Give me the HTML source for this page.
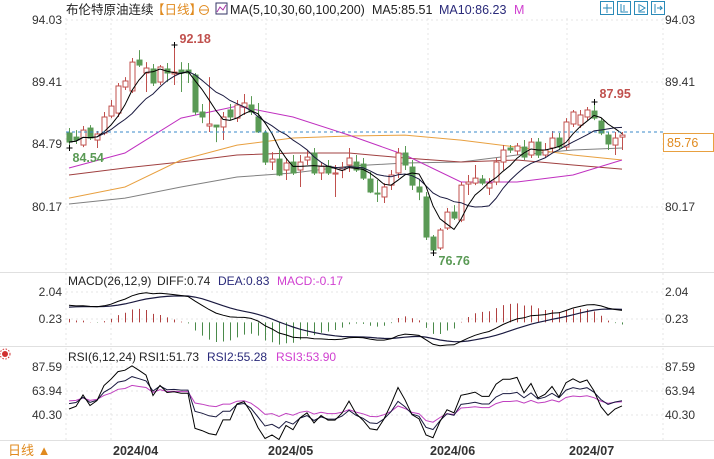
<!DOCTYPE html>
<html><head><meta charset="utf-8">
<style>
body{margin:0;background:#fff;}
svg{display:block;font-family:"Liberation Sans","Noto Sans CJK SC",sans-serif;}
</style></head>
<body>
<svg id="chart" width="714" height="459" viewBox="0 0 714 459" xmlns="http://www.w3.org/2000/svg">
<rect x="0" y="0" width="714" height="459" fill="#fff"/>
<g id="grid" stroke="#e4e4e4" stroke-width="1" stroke-dasharray="2,3">
  <line x1="66" y1="20" x2="663" y2="20"/><line x1="66" y1="82" x2="663" y2="82"/>
  <line x1="66" y1="207" x2="663" y2="207"/>
  <line x1="66" y1="292" x2="663" y2="292"/><line x1="66" y1="319" x2="663" y2="319"/>
  <line x1="66" y1="367" x2="663" y2="367"/><line x1="66" y1="391" x2="663" y2="391"/><line x1="66" y1="415" x2="663" y2="415"/>
  <line x1="111" y1="18" x2="111" y2="440"/><line x1="266" y1="18" x2="266" y2="440"/>
  <line x1="428" y1="18" x2="428" y2="440"/><line x1="567" y1="18" x2="567" y2="440"/>
  <line x1="66" y1="18" x2="66" y2="440"/><line x1="663" y1="18" x2="663" y2="440"/>
</g>
<g stroke="#e0e0e0">
  <line x1="0" y1="272.5" x2="714" y2="272.5"/><line x1="0" y1="346.5" x2="714" y2="346.5"/>
  <line x1="0" y1="440.5" x2="714" y2="440.5"/>
</g>
<g font-size="12.5">
  <text x="66" y="14" fill="#222">布伦特原油连续</text>
  <text x="152" y="14" fill="#e08a1e">【日线】</text>
  <circle cx="204" cy="10" r="4.5" fill="none" stroke="#e08a1e"/>
  <line x1="200" y1="10" x2="208" y2="10" stroke="#e08a1e"/>
  <rect x="216" y="3" width="11" height="11" fill="none" stroke="#336"/>
  <polyline points="217,12 220,7 223,10 226,5" fill="none" stroke="#a3a" />
  <text x="230" y="14" fill="#222">MA(5,10,30,60,100,200)</text>
  <text x="372" y="14" fill="#222">MA5:85.51</text>
  <text x="439" y="14" fill="#2a2a7a">MA10:86.23</text>
  <text x="514" y="14" fill="#d040d0">M</text>
</g>
<g fill="#fff" stroke="#2a8ab8">
  <rect x="600.5" y="1.5" width="13" height="13"/>
  <rect x="617.5" y="1.5" width="13" height="13"/>
  <rect x="634.5" y="1.5" width="13" height="13"/>
  <rect x="651.5" y="1.5" width="13" height="13"/>
  <path d="M607 4v9M603 8h9M621 4v8h7M624 5v6M639 4v8h6M640 5l5 3-5 3M655 4v9M657 8h5l-2-2M660 10l2-2" fill="none"/>
</g>
<g font-size="12" fill="#333">
  <text x="62" y="24" text-anchor="end">94.03</text><text x="62" y="86" text-anchor="end">89.41</text>
  <text x="62" y="148" text-anchor="end">84.79</text><text x="62" y="211" text-anchor="end">80.17</text>
  <text x="665" y="24">94.03</text><text x="665" y="86">89.41</text><text x="665" y="211">80.17</text>
</g>
<g font-size="12" fill="#333">
  <text x="62" y="296" text-anchor="end">2.04</text><text x="62" y="323" text-anchor="end">0.23</text>
  <text x="665" y="296">2.04</text><text x="665" y="323">0.23</text>
</g>
<g font-size="12" fill="#333">
  <text x="62" y="371" text-anchor="end">87.59</text><text x="62" y="395" text-anchor="end">63.94</text><text x="62" y="419" text-anchor="end">40.30</text>
  <text x="665" y="371">87.59</text><text x="665" y="395">63.94</text><text x="665" y="419">40.30</text>
</g>
<g font-size="12.5" font-weight="bold" fill="#333">
  <text x="113" y="455">2024/04</text><text x="268" y="455">2024/05</text>
  <text x="430" y="455">2024/06</text><text x="569" y="455">2024/07</text>
</g>
<text x="8" y="455" font-size="13" fill="#e08a1e">日线 ▲</text>
<g>
  <circle cx="5" cy="354" r="3" fill="#d03030"/><circle cx="5" cy="354" r="5" fill="none" stroke="#d03030" stroke-dasharray="1.5,1.5"/>
</g>
<g font-size="12">
  <text x="68" y="285" fill="#222">MACD(26,12,9)</text><text x="157" y="285" fill="#222">DIFF:0.74</text>
  <text x="218" y="285" fill="#2a2a7a">DEA:0.83</text><text x="277" y="285" fill="#d040d0">MACD:-0.17</text>
</g>
<g font-size="12">
  <text x="68" y="361" fill="#222">RSI(6,12,24)</text><text x="139" y="361" fill="#222">RSI1:51.73</text>
  <text x="207" y="361" fill="#2a2a7a">RSI2:55.28</text><text x="276" y="361" fill="#d040d0">RSI3:53.90</text>
</g>
<g id="main"></g>
<g id="macd"></g>
<g id="rsi"></g>
<line x1="66" y1="132" x2="663" y2="132" stroke="#3a8ac8" stroke-dasharray="3,3"/>
<g>
  <rect x="663.5" y="133.5" width="50" height="18" fill="#fff" stroke="#e8a040"/>
  <text x="667" y="147" font-size="12.5" fill="#e08a1e">85.76</text>
</g>
</svg>
<script>
const opens  = [85.65,85.35,84.76,86.02,85.13,85.65,86.91,87.13,89.06,88.77,91.06,90.10,90.40,89.43,90.40,90.03,90.32,90.32,89.95,87.21,86.17,86.24,86.10,87.36,86.76,87.58,87.73,86.84,85.65,83.50,83.72,82.91,83.50,82.91,83.65,84.17,82.69,83.20,82.61,82.91,83.28,83.50,83.35,82.24,81.20,80.91,81.79,82.69,84.17,83.13,81.65,80.91,77.94,77.13,78.61,79.79,79.20,81.87,81.94,82.24,81.57,82.02,83.50,84.54,84.32,84.61,84.02,84.98,84.02,84.54,85.28,84.61,86.32,86.24,86.84,87.28,86.54,85.50,84.76,85.35];
const highs  = [86.02,85.87,86.17,86.24,85.80,87.21,88.10,89.36,89.80,91.21,91.80,90.91,90.77,90.69,90.84,92.18,90.91,90.84,90.10,87.80,89.80,86.24,87.21,87.80,88.10,88.54,88.39,87.88,85.87,84.24,84.39,83.80,84.02,84.02,84.39,84.54,83.50,83.65,83.28,83.50,84.54,84.02,83.80,82.76,82.17,81.94,82.91,84.54,84.69,83.65,82.17,81.28,78.09,78.61,80.09,80.31,82.02,82.54,83.28,82.54,82.31,83.80,84.76,84.76,84.91,85.13,85.28,85.28,84.91,85.80,85.65,86.76,87.36,87.36,87.58,87.95,86.76,85.73,85.73,85.73];
const lows   = [84.54,84.84,84.61,85.13,84.54,85.50,86.76,86.84,88.84,88.62,90.55,88.69,89.14,89.21,89.43,89.21,88.69,89.36,86.99,86.39,85.73,84.98,85.13,86.61,86.47,86.99,86.99,85.65,83.28,82.91,82.46,82.17,82.54,81.65,83.28,82.54,82.17,82.54,80.91,82.31,82.76,82.76,82.17,81.20,80.54,80.46,81.43,82.31,82.91,81.43,80.68,77.72,76.76,76.98,78.46,79.20,79.05,81.06,81.79,81.79,81.06,81.79,82.91,84.17,84.02,83.65,83.80,83.80,83.80,84.24,84.39,84.39,86.10,86.02,86.61,86.61,85.50,84.39,84.02,84.39];
const closes = [84.98,85.13,85.87,85.28,85.58,86.84,87.65,89.14,89.51,90.91,90.69,90.47,89.36,90.55,90.10,90.17,90.10,90.10,87.21,86.84,86.32,86.10,86.84,86.84,87.73,87.88,87.21,85.73,83.50,83.72,82.54,83.43,82.69,83.50,83.87,82.69,83.20,82.69,82.69,83.06,83.80,82.91,82.31,81.28,81.13,81.65,82.54,84.17,83.28,81.79,81.28,77.94,76.98,78.46,79.79,79.35,81.79,82.02,82.31,81.94,81.94,83.50,84.39,84.39,84.69,83.87,84.98,84.02,84.39,85.28,84.61,86.47,87.21,86.99,87.36,86.76,85.65,84.84,85.28,85.50];
const maIdx  = [0,8,16,24,32,40,48,56,64,72,79];
const ma30   = [83.06,84.17,86.76,87.65,86.84,85.50,84.02,82.02,82.02,82.54,83.65];
const ma60   = [80.83,81.65,83.65,84.76,85.28,85.43,85.50,85.13,84.61,84.02,83.65];
const ma100  = [82.54,83.06,83.50,84.02,84.17,84.17,83.80,83.50,83.65,83.28,82.98];
const ma200  = [80.39,80.83,81.65,82.39,82.69,83.20,83.43,83.50,84.02,84.39,84.54];
const emaSeed = [84.5, 83.3, 1.0];
const rsiSeed = [0.33, 0.25];
const priceTicks = [94.03, 89.41, 84.79, 80.17];

const xC = i => 69 + i * 7;
const yP = p => 20 + (94.03 - p) * 13.49;
const yM = v => 319 + (0.23 - v) * 14.9;
const yR = v => 391 + (63.94 - v) * 1.015;
const NS = 'http://www.w3.org/2000/svg';
function mk(tag, parent, attrs) {
  const e = document.createElementNS(NS, tag);
  for (const k in attrs) e.setAttribute(k, attrs[k]);
  parent.appendChild(e); return e;
}
const main = document.getElementById('main');
const macdG = document.getElementById('macd');
const rsiG = document.getElementById('rsi');
function poly(parent, pts, color, w, name) {
  const e = mk('polyline', parent, {points: pts.map(p => p[0].toFixed(1) + ',' + p[1].toFixed(1)).join(' '), fill: 'none', stroke: color, 'stroke-width': w});
  
  
}
poly(main, maIdx.map((k, j) => [xC(k), yP(ma200[j])]), '#808080', 1, 'ma200-line');
poly(main, maIdx.map((k, j) => [xC(k), yP(ma100[j])]), '#a04040', 1, 'ma100-line');
poly(main, maIdx.map((k, j) => [xC(k), yP(ma60[j])]), '#e8a040', 1, 'ma60-line');
poly(main, maIdx.map((k, j) => [xC(k), yP(ma30[j])]), '#c030c0', 1, 'ma30-line');

closes.forEach((c, i) => {
  const o = opens[i], up = c >= o, col = up ? '#c0504d' : '#5a9a55';
  const g = mk('g', main, {});
  
  
  const x = xC(i);
  const top = yP(Math.max(o, c)), bot = yP(Math.min(o, c));
  mk('line', g, {x1: x + 0.5, x2: x + 0.5, y1: yP(highs[i]), y2: top, stroke: col});
  mk('line', g, {x1: x + 0.5, x2: x + 0.5, y1: bot, y2: yP(lows[i]), stroke: col});
  mk('rect', g, {x: x - 2, y: top, width: 5, height: Math.max(1, bot - top), fill: up ? '#fff' : col, stroke: col});
});

function sma(n) { return closes.map((_, i) => { const s = closes.slice(Math.max(0, i - n + 1), i + 1); return s.reduce((a, b) => a + b, 0) / s.length; }); }
poly(main, sma(10).map((v, i) => [xC(i), yP(v)]), '#1a1a40', 1, 'ma10-line');
poly(main, sma(5).map((v, i) => [xC(i), yP(v)]), '#000', 1, 'ma5-line');

let hi = 0, lo = 0;
highs.forEach((v, i) => { if (v > highs[hi]) hi = i; });
lows.forEach((v, i) => { if (v < lows[lo]) lo = i; });
function mark(i, p, color, dx, dy, name) {
  const x = xC(i) + 0.5, y = yP(p);
  mk('path', main, {d: `M${x - 3} ${y}h6M${x} ${y - 3}v6`, stroke: '#000'});
  const t = mk('text', main, {x: x + dx, y: y + dy, fill: color, 'font-size': 12.5, 'font-weight': 'bold'});
  t.textContent = p.toFixed(2);
  
  
}
mark(hi, highs[hi], '#c0504d', 5, -2, 'high-annotation');
mark(lo, lows[lo], '#5a9a55', 5, 12, 'low-annotation');
mark(0, lows[0], '#5a9a55', 3, 14, 'start-low-annotation');
let hi2 = 60; for (let i = 60; i < highs.length; i++) if (highs[i] > highs[hi2]) hi2 = i;
mark(hi2, highs[hi2], '#c0504d', 5, -4, 'recent-high-annotation');

let e12 = emaSeed[0], e26 = emaSeed[1], dea = emaSeed[2];
const diffs = [], deas = [];
closes.forEach(c => { e12 = e12 + (c - e12) * 2 / 13; e26 = e26 + (c - e26) * 2 / 27; const d = e12 - e26; dea = dea + (d - dea) * 2 / 10; diffs.push(d); deas.push(dea); });
diffs.forEach((d, i) => {
  const h = 2 * (d - deas[i]);
  const b = mk('line', macdG, {x1: xC(i) + 0.5, x2: xC(i) + 0.5, y1: yM(0), y2: yM(h), stroke: h >= 0 ? '#b04040' : '#4a8a4a'});
  
  
});
poly(macdG, deas.map((v, i) => [xC(i), yM(v)]), '#1a1a40', 1.2, 'dea-line');
poly(macdG, diffs.map((v, i) => [xC(i), yM(v)]), '#000', 1, 'diff-line');

function rsi(n) {
  let g = rsiSeed[0], l = rsiSeed[1]; const out = [];
  closes.forEach((c, i) => {
    const prev = i ? closes[i - 1] : opens[0]; const ch = c - prev;
    g = (g * (n - 1) + Math.max(ch, 0)) / n; l = (l * (n - 1) + Math.max(-ch, 0)) / n;
    out.push(100 * g / (g + l));
  });
  return out;
}
poly(rsiG, rsi(24).map((v, i) => [xC(i), yR(v)]), '#c040c0', 1, 'rsi3-line');
poly(rsiG, rsi(12).map((v, i) => [xC(i), yR(v)]), '#1a1a40', 1, 'rsi2-line');
poly(rsiG, rsi(6).map((v, i) => [xC(i), yR(v)]), '#000', 1, 'rsi1-line');
</script>
</body></html>
